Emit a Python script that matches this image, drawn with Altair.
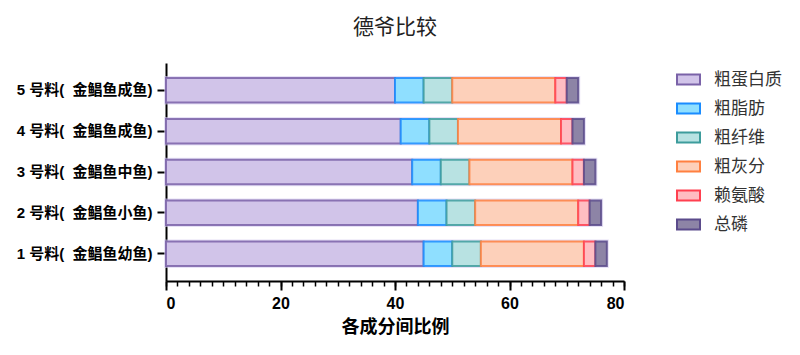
import altair as alt
import pandas as pd

SP = "\u00a0\u00a0"
categories = ["1 号料(" + SP + "金鲳鱼幼鱼)", "2 号料(" + SP + "金鲳鱼小鱼)",
              "3 号料(" + SP + "金鲳鱼中鱼)", "4 号料(" + SP + "金鲳鱼成鱼)",
              "5 号料(" + SP + "金鲳鱼成鱼)"]
components = ["粗蛋白质", "粗脂肪", "粗纤维", "粗灰分", "赖氨酸", "总磷"]
protein = [45, 44, 43, 41, 40]
fat = [5, 5, 5, 5, 5]
fiber = [5, 5, 5, 5, 5]
ash = [18, 18, 18, 18, 18]
lysine = [2, 2, 2, 2, 2]
phosphorus = [2, 2, 2, 2, 2]
x_ticks = [0, 20, 40, 60, 80]

fills = ["#d1c4e9", "#8fdfff", "#b8e2e2", "#fdd0ba", "#ffbdc2", "#8d84a6"]
strokes = ["#7a62a8", "#1a8cff", "#3d9c9c", "#ff8040", "#ff4050", "#5b4b8b"]

series = [protein, fat, fiber, ash, lysine, phosphorus]
rows = []
for ci, comp in enumerate(components):
    for ki, cat in enumerate(categories):
        rows.append({"cat": cat, "comp": comp, "value": series[ci][ki], "ord": ci})
df = pd.DataFrame(rows)

FONT = "Liberation Sans, Noto Sans CJK SC"
y_order = list(reversed(categories))
yscale = alt.Scale(domain=y_order, paddingInner=0.4, paddingOuter=0.37)
xscale = alt.Scale(domain=[0, 80], nice=False)
yaxis = alt.Axis(title=None, orient="left", tickSize=9, tickWidth=2, tickColor="black",
                 domainColor="black", domainWidth=2,
                 labelFont=FONT, labelFontSize=15, labelFontWeight="bold",
                 labelColor="black", labelPadding=5)

halo = alt.Chart(df).transform_aggregate(
    total="sum(value)", groupby=["cat"]
).mark_bar(fill="transparent", stroke="#d6cdf0", strokeWidth=4, strokeOpacity=0.6).encode(
    x=alt.X("total:Q", scale=xscale,
            axis=alt.Axis(orient="bottom", values=list(range(0, 81, 2)), labels=False,
                          domain=False, tickSize=5, tickWidth=1.5, tickColor="black",
                          title=None, grid=False)),
    y=alt.Y("cat:N", scale=yscale, sort=y_order, axis=yaxis),
)

bars = alt.Chart(df).mark_bar(strokeWidth=2, strokeOpacity=0.85).encode(
    x=alt.X("value:Q", stack="zero", scale=xscale,
            axis=alt.Axis(orient="bottom", values=x_ticks, title="各成分间比例",
                          tickSize=9, tickWidth=2,
                          tickColor="black", domainColor="black", domainWidth=2,
                          labelFont=FONT, labelFontSize=16, labelFontWeight="bold",
                          labelColor="black", labelPadding=5,
                          titleFont=FONT, titleFontSize=18, titleFontWeight="bold",
                          titleColor="black", titlePadding=7, grid=False)),
    y=alt.Y("cat:N", scale=yscale, sort=y_order, axis=yaxis),
    fill=alt.Fill("comp:N", scale=alt.Scale(domain=components, range=fills),
                  legend=alt.Legend(title=None)),
    stroke=alt.Stroke("comp:N", scale=alt.Scale(domain=components, range=strokes),
                      legend=alt.Legend(title=None)),
    order=alt.Order("ord:Q"),
)

chart = alt.layer(halo, bars).resolve_axis(x="independent").properties(
    width=458, height=218,
    autosize=alt.AutoSizeParams(type="none"),
    padding={"left": 166, "top": 63, "right": 176, "bottom": 74},
    title=alt.TitleParams("德爷比较", font="Noto Sans CJK SC", fontSize=21,
                          fontWeight="normal", color="#222222", offset=25),
).configure_view(stroke=None).configure_legend(
    orient="none", legendX=510, legendY=4,
    symbolType="M-1,-0.43H1V0.43H-1Z", symbolSize=529, symbolStrokeWidth=2,
    labelFont="Noto Sans CJK SC", labelFontSize=17, labelColor="#333333",
    labelOffset=13, rowPadding=7,
)

chart.save("out.html", embed_options={"renderer": "svg", "actions": False})
